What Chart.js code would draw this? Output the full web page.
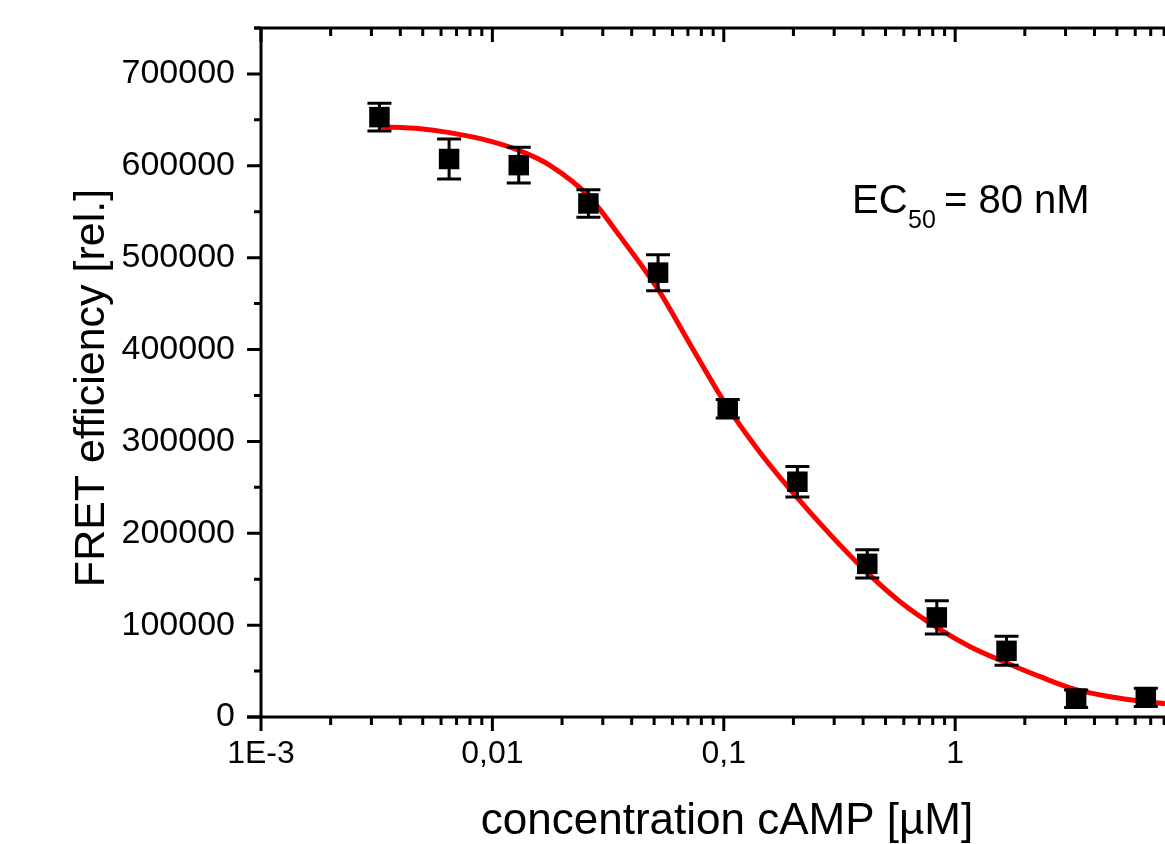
<!DOCTYPE html>
<html>
<head>
<meta charset="utf-8">
<script src="https://cdn.jsdelivr.net/npm/chart.js@4.4.1/dist/chart.umd.min.js"></script>
<style>
html,body{margin:0;padding:0;background:#fff;}
#wrap{width:1165px;height:844px;position:relative;}
</style>
</head>
<body>
<div id="wrap"><canvas id="c" width="1165" height="844"></canvas></div>
<script>
// ---- data ----
const concentrations = [0.00325, 0.0065, 0.013, 0.026, 0.052, 0.104, 0.208, 0.417, 0.833, 1.667, 3.333, 6.667];
const fretValues     = [653000, 607400, 600700, 559000, 483700, 335600, 256100, 166700, 108400, 72000, 19900, 21300];
const fretErrors     = [15200, 21800, 19400, 15000, 19600, 10000, 16700, 15400, 18100, 15800, 9600, 10000];

const fitX = [0.00325, 0.00489, 0.00652, 0.00888, 0.0131, 0.0178, 0.0262, 0.0357, 0.0521, 0.0717, 0.1036, 0.1437, 0.2077, 0.2886, 0.4169, 0.578, 0.836, 1.161, 1.661, 2.329, 3.33, 4.674, 6.683, 8.07];
const fitY = [642600, 640400, 636100, 629500, 616500, 600200, 566400, 522900, 465200, 405300, 337800, 287700, 238700, 198500, 157100, 125500, 97200, 76500, 59100, 43900, 29700, 22100, 16700, 14500];

const yTickValues = [0, 100000, 200000, 300000, 400000, 500000, 600000, 700000];
const xDecades = [0.001, 0.01, 0.1, 1];
const xDecadeLabels = ['1E-3', '0,01', '0,1', '1'];

const xTitle = 'concentration cAMP [\u00b5M]';
const yTitle = 'FRET efficiency [rel.]';

const X_MIN = 0.001, X_MAX = 8.07, Y_MIN = 0, Y_MAX = 750000;
const FONT = "'Liberation Sans', Arial, sans-serif";

// ---- plugins ----
const errorBarPlugin = {
  id: 'errorBars',
  beforeDatasetDraw(chart, args) {
    if (args.index !== 1) return;
    const {ctx, scales: {x, y}} = chart;
    ctx.save();
    ctx.strokeStyle = '#000';
    ctx.lineWidth = 3;
    concentrations.forEach((c, i) => {
      const px = x.getPixelForValue(c);
      const yt = y.getPixelForValue(fretValues[i] + fretErrors[i]);
      const yb = y.getPixelForValue(fretValues[i] - fretErrors[i]);
      ctx.beginPath();
      ctx.moveTo(px, yt); ctx.lineTo(px, yb);
      ctx.moveTo(px - 12, yt); ctx.lineTo(px + 12, yt);
      ctx.moveTo(px - 12, yb); ctx.lineTo(px + 12, yb);
      ctx.stroke();
    });
    ctx.restore();
  }
};

const axesPlugin = {
  id: 'axesFrame',
  afterDraw(chart) {
    const {ctx, chartArea: {left, top, right, bottom}, scales: {x, y}} = chart;
    ctx.save();
    ctx.strokeStyle = '#000';
    ctx.lineWidth = 3;
    ctx.lineCap = 'butt';
    ctx.beginPath();
    ctx.moveTo(left, top - 1.5); ctx.lineTo(left, bottom + 1.5);
    ctx.moveTo(left - 14, bottom); ctx.lineTo(right, bottom);
    ctx.moveTo(left - 7, top); ctx.lineTo(right, top);
    ctx.stroke();

    ctx.beginPath();
    xDecades.forEach(d => {
      for (let m = 1; m <= 9; m++) {
        const v = m * d;
        if (v < X_MIN - 1e-12 || v > X_MAX) continue;
        const px = x.getPixelForValue(v);
        const len = m === 1 ? 14 : 8;
        ctx.moveTo(px, bottom); ctx.lineTo(px, bottom + len);
        ctx.moveTo(px, top); ctx.lineTo(px, top + len);
      }
    });
    for (let v = 0; v <= Y_MAX; v += 50000) {
      const py = y.getPixelForValue(v);
      const len = (v % 100000 === 0) ? 14 : 7;
      ctx.moveTo(left - len, py); ctx.lineTo(left, py);
    }
    ctx.stroke();

    ctx.fillStyle = '#000';
    ctx.textBaseline = 'alphabetic';
    ctx.textAlign = 'center';
    ctx.font = '44px ' + FONT;
    ctx.fillText(xTitle, 727, 834);
    ctx.save();
    ctx.translate(104, 388);
    ctx.rotate(-Math.PI / 2);
    ctx.font = '43px ' + FONT;
    ctx.fillText(yTitle, 0, 0);
    ctx.restore();

    ctx.textAlign = 'left';
    ctx.font = '40px ' + FONT;
    ctx.fillText('EC', 852, 213);
    ctx.font = '25px ' + FONT;
    ctx.fillText('50', 908, 228);
    ctx.font = '40px ' + FONT;
    ctx.fillText('= 80 nM', 944, 213);
    ctx.restore();
  }
};

function zeroPad(s) { s.paddingTop = 0; s.paddingBottom = 0; s.paddingLeft = 0; s.paddingRight = 0; }

const ctx = document.getElementById('c').getContext('2d');
new Chart(ctx, {
  type: 'scatter',
  data: {
    datasets: [
      {
        label: 'fit',
        data: fitX.map((v, i) => ({x: v, y: fitY[i]})),
        showLine: true,
        borderColor: '#ff0000',
        borderWidth: 5,
        pointRadius: 0,
        cubicInterpolationMode: 'monotone',
        order: 1
      },
      {
        label: 'data',
        data: concentrations.map((v, i) => ({x: v, y: fretValues[i]})),
        showLine: false,
        pointStyle: 'rect',
        pointRadius: 14.5,
        pointBackgroundColor: '#000',
        pointBorderColor: '#000',
        pointBorderWidth: 0,
        order: 0
      }
    ]
  },
  options: {
    responsive: false,
    animation: false,
    devicePixelRatio: 1,
    layout: {autoPadding: false, padding: {left: 0, top: 28, right: 0, bottom: 0}},
    plugins: {legend: {display: false}, tooltip: {enabled: false}, title: {display: false}},
    scales: {
      x: {
        type: 'logarithmic',
        position: 'bottom',
        min: X_MIN,
        max: X_MAX,
        grid: {display: false, drawTicks: false},
        border: {display: false},
        afterBuildTicks: s => { s.ticks = xDecades.map(v => ({value: v})); },
        afterFit: s => { s.height = 844 - 717; zeroPad(s); },
        ticks: {
          autoSkip: false,
          maxRotation: 0,
          padding: 18,
          color: '#000',
          font: {family: FONT, size: 32},
          callback: v => { const i = xDecades.findIndex(d => Math.abs(d - v) / d < 1e-6); return i >= 0 ? xDecadeLabels[i] : ''; }
        }
      },
      y: {
        type: 'linear',
        position: 'left',
        min: Y_MIN,
        max: Y_MAX,
        grid: {display: false, drawTicks: false},
        border: {display: false},
        afterBuildTicks: s => { s.ticks = yTickValues.map(v => ({value: v})); },
        afterFit: s => { s.width = 261; zeroPad(s); },
        ticks: {
          autoSkip: false,
          padding: 26,
          color: '#000',
          font: {family: FONT, size: 34},
          callback: v => String(v)
        }
      }
    }
  },
  plugins: [errorBarPlugin, axesPlugin]
});
</script>
</body>
</html>
